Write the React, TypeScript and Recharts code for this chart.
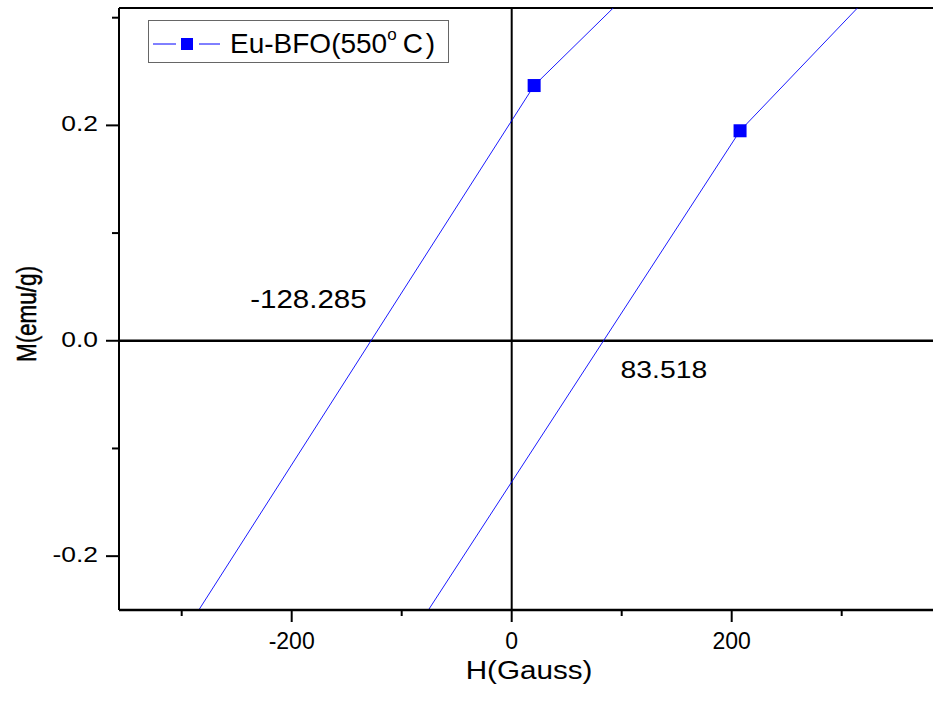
import React from 'react';
import { LineChart, Line, XAxis, YAxis, ReferenceLine, ReferenceDot, Legend } from 'recharts';

// hysteresis branches (H in Gauss, M in emu/g)
const leftBranchH = [-440, 20.4, 300];
const leftBranchM = [-0.4985, 0.237, 0.517];
const rightBranchH = [-240, 207.6, 450];
const rightBranchM = [-0.508, 0.195, 0.454];

// coercive field crossings and their printed values
const coerciveH = [-128.285, 83.518];
const coerciveText = ['-128.285', '83.518'];

const xTicks = [-300, -200, -100, 0, 100, 200, 300];
const yTicks = [-0.2, -0.1, 0, 0.1, 0.2, 0.3];
const xDomain = [-357, 400];
const yDomain = [-0.25, 0.309];

const seriesName = 'Eu-BFO(550°C)';
const FONT = '"Liberation Sans", Arial, sans-serif';
const BLUE = '#0000ff';

const toPoints = (hs: number[], ms: number[]) => hs.map((h, i) => ({ h, m: ms[i] }));
const leftData = toPoints(leftBranchH, leftBranchM);
const rightData = toPoints(rightBranchH, rightBranchM);

const XTick = ({ x, y, payload }: any) => {
    const major = payload.value % 200 === 0;
    return (
        <g>
            <line x1={x} x2={x} y1={y} y2={y + (major ? 12 : 6)} stroke="#000" strokeWidth={2} />
            {major && (
                <text x={x} y={y + 39} textAnchor="middle" fontSize={23} fontFamily={FONT} fill="#000">
                    {payload.value}
                </text>
            )}
        </g>
    );
};

const YTick = ({ x, y, payload }: any) => {
    const v = payload.value as number;
    const major = Math.abs(Math.round(v * 10)) % 2 === 0;
    return (
        <g>
            <line x1={x} x2={x - (major ? 13 : 7)} y1={y} y2={y} stroke="#000" strokeWidth={2} />
            {major && (
                <text transform={`translate(${x - 21},${y + 6}) scale(1.2,1)`} textAnchor="end" fontSize={22} fontFamily={FONT} fill="#000">
                    {v.toFixed(1)}
                </text>
            )}
        </g>
    );
};

const SquareDot = (props: any) => {
    const { cx, cy, key } = props;
    if (cx == null || cy == null) return <g key={key} />;
    return <rect key={key} x={cx - 6.5} y={cy - 6.5} width={13} height={13} fill={BLUE} />;
};

const LegendBox = () => (
    <svg width={303} height={44} style={{ display: 'block' }}>
        <rect x={1.5} y={0.5} width={300} height={42} fill="#fff" stroke="#666" strokeWidth={1} />
        <line x1={6} x2={29} y1={24} y2={24} stroke={BLUE} strokeWidth={1} />
        <rect x={34} y={18} width={12} height={12} fill={BLUE} />
        <line x1={52} x2={73} y1={24} y2={24} stroke={BLUE} strokeWidth={1} />
        <text x={83} y={33} fontSize={28} fontFamily={FONT} fill="#000">
            {seriesName.split('°')[0]}
            <tspan fontSize={17} dy={-13}>o</tspan>
            <tspan dx={6} dy={13} fontSize={28} letterSpacing={3}>{seriesName.split('°')[1]}</tspan>
        </text>
    </svg>
);

const coerciveLabel = (idx: number) => (props: any) => {
    const vb = props.viewBox;
    const cx = vb.x + vb.width / 2;
    const cy = vb.y + vb.height / 2;
    const left = idx === 0;
    return (
        <text
            transform={left ? `translate(${cx - 4},${cy - 33}) scale(1.18,1)` : `translate(${cx + 17},${cy + 37}) scale(1.18,1)`}
            textAnchor={left ? 'end' : 'start'}
            fontSize={left ? 25 : 24}
            fontFamily={FONT}
            fill="#000"
        >
            {coerciveText[idx]}
        </text>
    );
};

export default function App() {
    return (
        <div style={{ position: 'absolute', left: 0, top: 0, width: 933, height: 709, overflow: 'hidden', background: '#fff' }}>
            <LineChart width={960} height={709} margin={{ top: 8, right: 8.3, bottom: 39, left: 59 }}>
                <XAxis
                    dataKey="h"
                    type="number"
                    domain={xDomain}
                    allowDataOverflow
                    ticks={xTicks}
                    interval={0}
                    tick={<XTick />}
                    tickLine={false}
                    tickSize={0}
                    tickMargin={0}
                    height={60}
                    axisLine={{ stroke: '#000', strokeWidth: 2.5 }}
                    label={(props: any) => (
                        <text
                            transform={`translate(${props.viewBox.x + 410},${props.viewBox.y + 69}) scale(1.14,1)`}
                            textAnchor="middle"
                            fontSize={26}
                            fontFamily={FONT}
                            fill="#000"
                        >
                            H(Gauss)
                        </text>
                    )}
                />
                <YAxis
                    dataKey="m"
                    type="number"
                    domain={yDomain}
                    allowDataOverflow
                    ticks={yTicks}
                    interval={0}
                    tick={<YTick />}
                    tickLine={false}
                    tickSize={0}
                    tickMargin={0}
                    width={60}
                    axisLine={{ stroke: '#000', strokeWidth: 2 }}
                    label={(props: any) => (
                        <text
                            transform={`translate(36,${props.viewBox.y + props.viewBox.height / 2 + 5}) scale(1.2,1) rotate(-90)`}
                            textAnchor="middle"
                            fontSize={22.5}
                            fontFamily={FONT}
                            fill="#000"
                            stroke="#000"
                            strokeWidth={0.4}
                        >
                            M(emu/g)
                        </text>
                    )}
                />
                <Legend
                    layout="vertical"
                    verticalAlign="middle"
                    align="center"
                    wrapperStyle={{ left: 147, top: 20, width: 303, height: 44 }}
                    content={() => <LegendBox />}
                />
                <ReferenceLine y={yDomain[1]} stroke="#000" strokeWidth={2} />
                <ReferenceLine y={0} stroke="#000" strokeWidth={2.5} />
                <ReferenceLine x={0} stroke="#000" strokeWidth={2} />
                <Line
                    data={leftData}
                    dataKey="m"
                    name={seriesName}
                    type="linear"
                    stroke={BLUE}
                    strokeWidth={0.9}
                    dot={SquareDot}
                    activeDot={false}
                    isAnimationActive={false}
                />
                <Line
                    data={rightData}
                    dataKey="m"
                    name={seriesName}
                    legendType="none"
                    type="linear"
                    stroke={BLUE}
                    strokeWidth={0.9}
                    dot={SquareDot}
                    activeDot={false}
                    isAnimationActive={false}
                />
                <ReferenceDot x={coerciveH[0]} y={0} r={1} fill="none" stroke="none" label={coerciveLabel(0)} />
                <ReferenceDot x={coerciveH[1]} y={0} r={1} fill="none" stroke="none" label={coerciveLabel(1)} />
            </LineChart>
        </div>
    );
}
